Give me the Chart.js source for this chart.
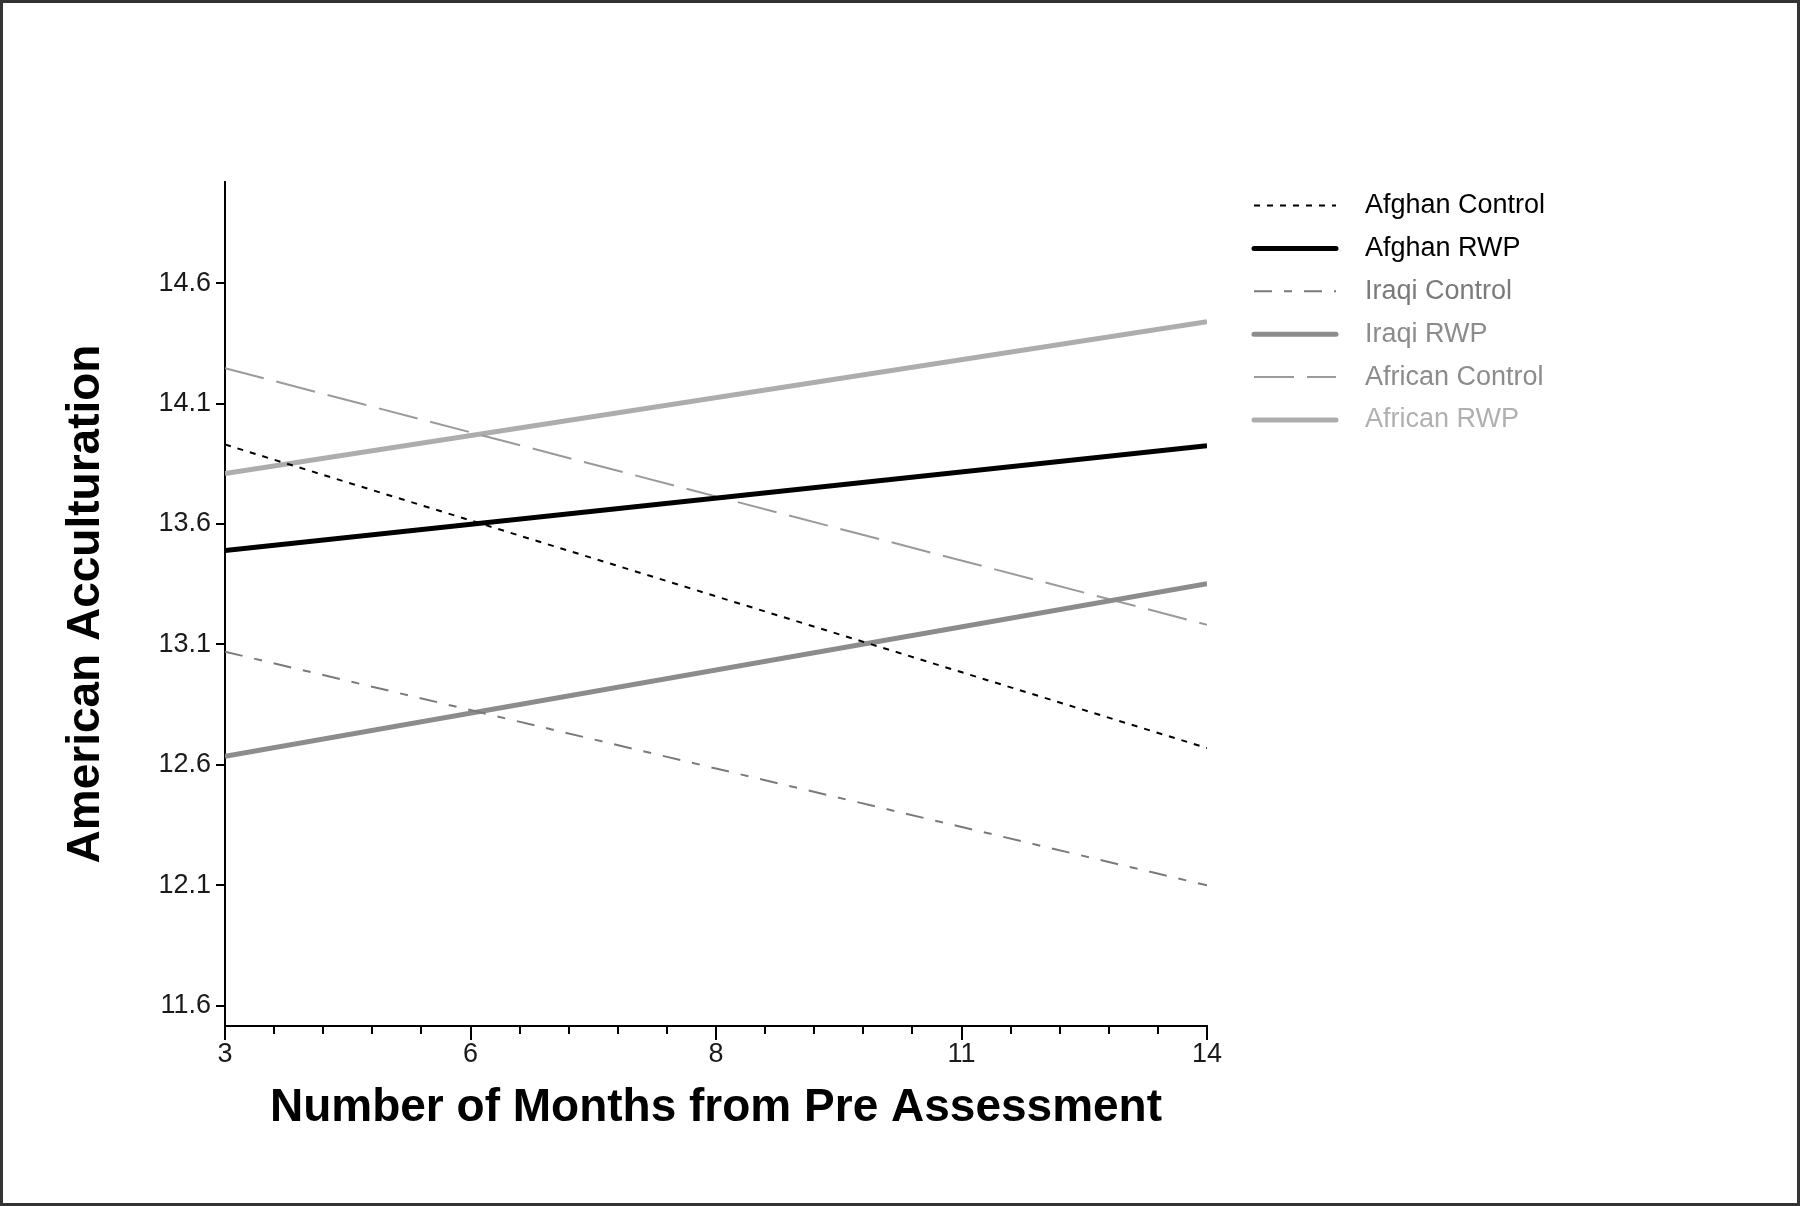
<!DOCTYPE html>
<html>
<head>
<meta charset="utf-8">
<script src="https://cdn.jsdelivr.net/npm/chart.js@4.4.0/dist/chart.umd.min.js"></script>
<style>
  html, body { margin: 0; padding: 0; background: #fff; }
  canvas { display: block; }
</style>
</head>
<body>
<canvas id="myChart" width="1800" height="1206"></canvas>
<script>
// fitted lines, read at the two ends of the time axis
const months = [3, 14];
const seriesNames = ['Afghan Control', 'Afghan RWP', 'Iraqi Control', 'Iraqi RWP', 'African Control', 'African RWP'];
const afghanControl = [13.93, 12.67];
const afghanRwp = [13.49, 13.925];
const iraqiControl = [13.07, 12.10];
const iraqiRwp = [12.636, 13.352];
const africanControl = [14.247, 13.182];
const africanRwp = [13.81, 14.44];

// axis ticks (the x labels are the rounded tick values)
const xTickValues = [3, 5.75, 8.5, 11.25, 14];
const xTickLabels = ['3', '6', '8', '11', '14'];
const yTickValues = [11.6, 12.1, 12.6, 13.1, 13.6, 14.1, 14.6];

const FONT = '"Liberation Sans", Arial, sans-serif';
const legendTextColors = ['#000', '#000', '#7a7a7a', '#8c8c8c', '#8c8c8c', '#b0b0b0'];

function line(label, values, color, width, dash) {
  return {
    label: label,
    data: months.map((m, i) => ({ x: m, y: values[i] })),
    borderColor: color,
    borderWidth: width,
    borderDash: dash,
    pointRadius: 0,
    tension: 0,
    fill: false
  };
}

// legend on the right + frame round the picture
const sideLegend = {
  id: 'sideLegend',
  afterDraw(chart) {
    const ctx = chart.ctx;
    ctx.save();
    chart.data.datasets.forEach((ds, i) => {
      const y = 205.5 + i * 42.9;
      ctx.beginPath();
      ctx.setLineDash(ds.borderDash || []);
      ctx.lineWidth = ds.borderWidth;
      ctx.strokeStyle = ds.borderColor;
      ctx.lineCap = ds.borderWidth > 3 ? 'round' : 'butt';
      ctx.moveTo(1254, y);
      ctx.lineTo(1336, y);
      ctx.stroke();
      ctx.setLineDash([]);
      ctx.fillStyle = legendTextColors[i];
      ctx.font = '27px ' + FONT;
      ctx.textBaseline = 'middle';
      ctx.fillText(ds.label, 1365, y);
    });
    ctx.lineWidth = 3;
    ctx.strokeStyle = '#333';
    ctx.strokeRect(1.5, 1.5, 1797, 1203);
    ctx.restore();
  }
};

const ctx = document.getElementById('myChart').getContext('2d');

const chart = new Chart(ctx, {
  type: 'line',
  data: {
    datasets: [
      line(seriesNames[0], afghanControl, '#000000', 2, [6, 7]),
      line(seriesNames[1], afghanRwp, '#000000', 5, []),
      line(seriesNames[2], iraqiControl, '#7a7a7a', 2, [18, 12, 8, 12]),
      line(seriesNames[3], iraqiRwp, '#8c8c8c', 5, []),
      line(seriesNames[4], africanControl, '#9a9a9a', 2, [40, 13]),
      line(seriesNames[5], africanRwp, '#adadad', 5, [])
    ]
  },
  options: {
    responsive: false,
    animation: false,
    layout: { padding: { left: 0, top: 182, right: 593, bottom: 0 } },
    plugins: {
      legend: { display: false },
      tooltip: { enabled: false }
    },
    scales: {
      x: {
        type: 'linear',
        position: 'bottom',
        min: 3,
        max: 14,
        weight: 1,
        afterBuildTicks: s => { s.ticks = xTickValues.map(v => ({ value: v })); },
        afterFit: s => { s.height = 180; },
        ticks: {
          autoSkip: false,
          maxRotation: 0,
          padding: -2,
          color: '#1a1a1a',
          font: { family: FONT, size: 27 },
          callback: (v, i) => xTickLabels[i]
        },
        grid: { drawOnChartArea: false, drawTicks: true, tickLength: 14, color: '#000', lineWidth: 2 },
        border: { display: true, color: '#000', width: 2 },
        title: {
          display: true,
          text: 'Number of Months from Pre Assessment',
          color: '#000',
          font: { family: FONT, size: 46, weight: 'bold' },
          padding: { top: 0, bottom: 70 }
        }
      },
      // minor tick marks along the bottom axis
      x2: {
        type: 'linear',
        position: 'bottom',
        min: 3,
        max: 14,
        weight: 0,
        afterBuildTicks: s => {
          const t = [];
          for (let k = 0; k <= 20; k++) t.push({ value: 3 + k * 0.55 });
          s.ticks = t;
        },
        afterFit: s => { s.height = 0; },
        ticks: { display: false },
        grid: { drawOnChartArea: false, drawTicks: true, tickLength: 8, color: '#000', lineWidth: 2 },
        border: { display: false }
      },
      y: {
        type: 'linear',
        min: 11.516,
        max: 15.02,
        afterBuildTicks: s => { s.ticks = yTickValues.map(v => ({ value: v })); },
        afterFit: s => { s.width = 225; },
        ticks: {
          padding: 5,
          color: '#1a1a1a',
          font: { family: FONT, size: 27 },
          callback: v => Number(v).toFixed(1)
        },
        grid: { drawOnChartArea: false, drawTicks: true, tickLength: 9, color: '#000', lineWidth: 2 },
        border: { display: true, color: '#000', width: 2 },
        title: {
          display: true,
          text: 'American Acculturation',
          color: '#000',
          font: { family: FONT, size: 46, weight: 'bold' },
          padding: { top: 59, bottom: 0 }
        }
      }
    }
  },
  plugins: [sideLegend]
});
</script>
</body>
</html>
